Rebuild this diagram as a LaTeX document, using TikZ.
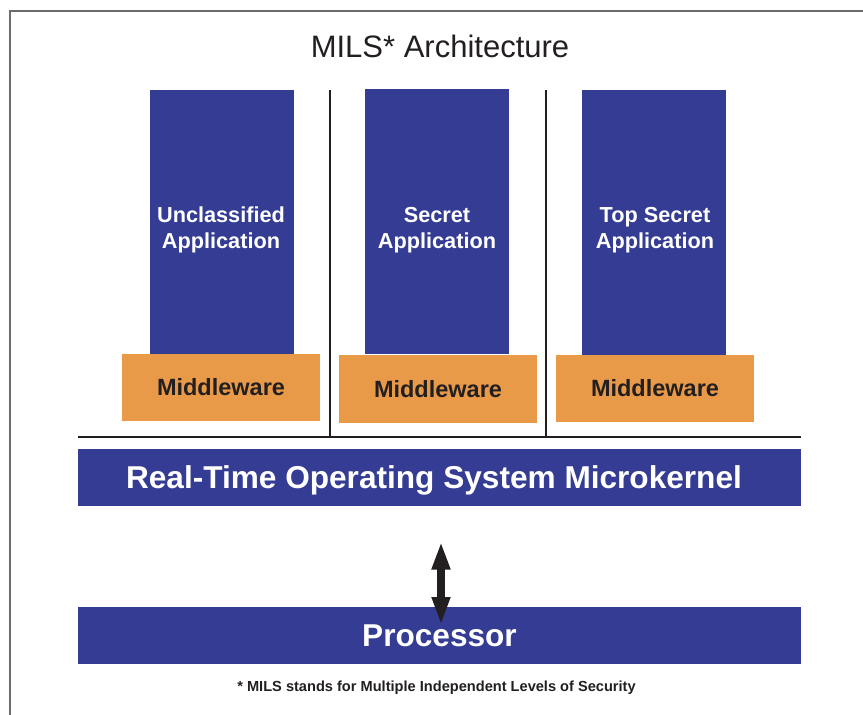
\documentclass[tikz,border=0pt]{standalone}
\usepackage{fontspec}
\setmainfont{Liberation Sans}
\usetikzlibrary{arrows.meta}
\definecolor{mblue}{HTML}{343C93}
\definecolor{morange}{HTML}{E99A48}
\definecolor{dtext}{HTML}{231F20}
\definecolor{framegray}{HTML}{6D6D6D}
\tikzset{
  box/.style={anchor=north west, inner sep=0pt, outer sep=0pt, draw=none},
  appbox/.style={box, fill=mblue},
  mwbox/.style={box, fill=morange, text=dtext, font=\bfseries\fontsize{23.5}{28}\selectfont},
  barbox/.style={box, fill=mblue, text=white, font=\bfseries\fontsize{31.6}{36}\selectfont},
  applabel/.style={text=white, align=center, inner sep=0pt, font=\bfseries\fontsize{21.7}{26}\selectfont},
  divider/.style={draw=dtext, line width=1.2pt},
  frameline/.style={draw=framegray, line width=2pt},
  dblarrow/.style={draw=dtext, line width=8pt, {Triangle[width=17pt,length=28pt]}-{Triangle[width=17pt,length=28pt]}}
}
\begin{document}
\begin{tikzpicture}[x=1pt,y=-1pt]
\useasboundingbox (0,0) rectangle (863,715);
% frame
\coordinate (fbl) at (10,715);
\coordinate (ftl) at (10,11);
\coordinate (ftr) at (863,11);
\draw[frameline] (fbl) -- (ftl) -- (ftr);
% title
\node[anchor=base, inner sep=0pt, text=dtext, font=\fontsize{31}{36}\selectfont] (title) at (440,57) {MILS* Architecture};
% application columns
\node[appbox, minimum width=144pt, minimum height=264pt] (app1) at (150,90) {};
\node[appbox, minimum width=144pt, minimum height=265pt] (app2) at (365,89) {};
\node[appbox, minimum width=144pt, minimum height=265pt] (app3) at (582,90) {};
\node[applabel] (lab1) at (221,230) {Unclassified\\Application};
\node[applabel] (lab2) at (437,230) {Secret\\Application};
\node[applabel] (lab3) at (655,230) {Top Secret\\Application};
% middleware
\node[mwbox, minimum width=198pt, minimum height=67pt] (mw1) at (122,354) {Middleware};
\node[mwbox, minimum width=198pt, minimum height=68pt] (mw2) at (339,355) {Middleware};
\node[mwbox, minimum width=198pt, minimum height=67pt] (mw3) at (556,355) {Middleware};
% dividers
\coordinate (d1t) at (330,90);
\coordinate (d1b) at (330,437);
\coordinate (d2t) at (546,90);
\coordinate (d2b) at (546,437);
\coordinate (hl) at (78,437);
\coordinate (hr) at (801,437);
\draw[divider] (d1t) -- (d1b);
\draw[divider] (d2t) -- (d2b);
\draw[divider] (hl) -- (hr);
% RTOS and processor
\node[appbox, minimum width=723pt, minimum height=57pt] (rtos) at (78,449) {};
\node[anchor=base, inner sep=0pt, text=white, font=\bfseries\fontsize{31.6}{36}\selectfont] (rtoslabel) at (434,488.3) {Real-Time Operating System Microkernel};
\node[barbox, minimum width=723pt, minimum height=57pt] (proc) at (78,607) {Processor};
% arrow
\coordinate (atop) at (441,541.5);
\coordinate (abot) at (441,625);
\draw[dblarrow] (atop) -- (abot);
% footnote
\node[anchor=base, inner sep=0pt, text=dtext, font=\bfseries\fontsize{14.6}{18}\selectfont] (note) at (436.5,691) {* MILS stands for Multiple Independent Levels of Security};
\end{tikzpicture}
\end{document}
